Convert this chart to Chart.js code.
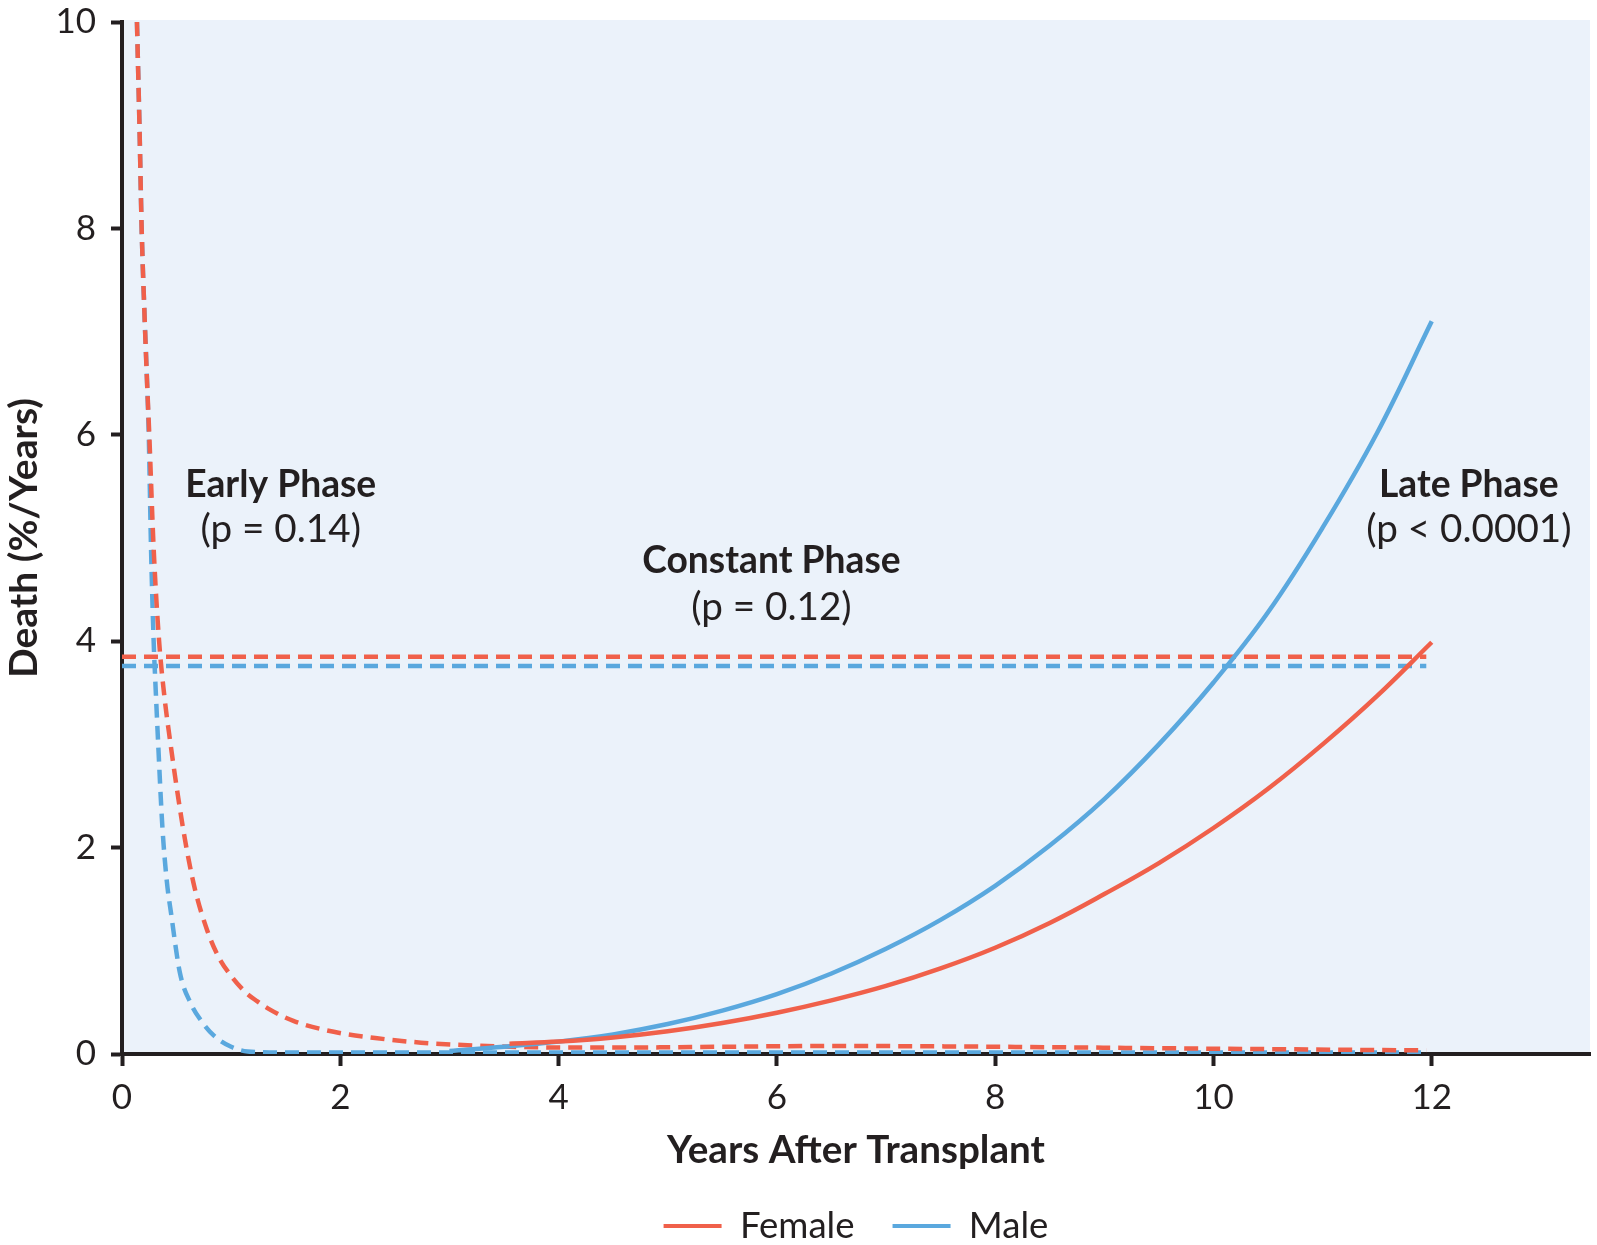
<!DOCTYPE html>
<html>
<head>
<meta charset="utf-8">
<script src="https://cdn.jsdelivr.net/npm/chart.js@4.4.1/dist/chart.umd.min.js"></script>
<style>
  html, body { margin: 0; padding: 0; background: #ffffff; }
  #wrap { width: 1597px; height: 1245px; position: relative; }
  canvas { display: block; }
</style>
</head>
<body>
<div id="wrap"><canvas id="chart" width="1597" height="1245"></canvas></div>
<script>
// ---------------- data ----------------
const xTicks = [0, 2, 4, 6, 8, 10, 12];
const yTicks = [0, 2, 4, 6, 8, 10];
const seriesNames = ['Female', 'Male'];

// early phase hazard (dashed)
const femaleEarlyYears = [0.137, 0.16, 0.18, 0.205, 0.23, 0.25, 0.29, 0.34, 0.39, 0.44, 0.52, 0.59, 0.67, 0.78, 0.88, 0.99, 1.13, 1.24, 1.34, 1.57, 1.94, 2.32, 2.74, 3.27, 3.8, 4.5, 5.5, 6.5, 7.5, 8.5, 9.5, 10.5, 11.95];
const femaleEarlyRate  = [10, 9, 8, 7.2, 6.5, 6.0, 4.9, 4.0, 3.45, 3.04, 2.45, 2.0, 1.59, 1.2, 0.95, 0.77, 0.60, 0.51, 0.44, 0.32, 0.215, 0.155, 0.11, 0.08, 0.065, 0.062, 0.07, 0.078, 0.074, 0.066, 0.056, 0.047, 0.035];
const maleEarlyYears   = [0.137, 0.16, 0.18, 0.205, 0.23, 0.245, 0.266, 0.29, 0.31, 0.33, 0.37, 0.41, 0.45, 0.53, 0.63, 0.72, 0.84, 1.0, 1.15, 1.5, 3, 6, 9, 11.95];
const maleEarlyRate    = [10, 9, 8, 7.2, 6.5, 6.0, 4.9, 4.0, 3.5, 3.04, 2.2, 1.68, 1.36, 0.79, 0.49, 0.33, 0.18, 0.07, 0.025, 0.015, 0.015, 0.015, 0.015, 0.015];

// constant phase hazard (dashed)
const constantYears      = [0, 11.95];
const femaleConstantRate = [3.85, 3.85];
const maleConstantRate   = [3.76, 3.76];

// late phase hazard (solid)
const femaleLateYears = [3.55, 4, 4.5, 5, 5.5, 6, 6.5, 7, 7.5, 8, 8.5, 9, 9.5, 10, 10.5, 11, 11.5, 12];
const femaleLateRate  = [0.10, 0.12, 0.16, 0.22, 0.30, 0.40, 0.52, 0.66, 0.83, 1.03, 1.27, 1.55, 1.85, 2.19, 2.57, 3.0, 3.47, 3.99];
const maleLateYears   = [3.0, 3.5, 4, 4.5, 5, 5.5, 6, 6.5, 7, 7.5, 8, 8.5, 9, 9.5, 10, 10.5, 11, 11.5, 12];
const maleLateRate    = [0.03, 0.07, 0.12, 0.19, 0.29, 0.42, 0.58, 0.78, 1.02, 1.30, 1.63, 2.02, 2.47, 3.0, 3.6, 4.28, 5.1, 6.02, 7.1];

const phaseNames   = ['Early Phase', 'Constant Phase', 'Late Phase'];
const phasePValues = ['(p = 0.14)', '(p = 0.12)', '(p < 0.0001)'];

// ---------------- styling ----------------
const FAMILY = 'Lato';
const INK = '#231f20';
const RED = '#f0604a';
const BLUE = '#5aa8de';
const PANEL = '#ebf2fa';

const mctx = document.createElement('canvas').getContext('2d');
function fitSize(text, weight, width) {
  mctx.font = weight + ' 100px ' + FAMILY;
  return 100 * width / mctx.measureText(text).width;
}
const tickSize   = 35;
const yTitleSize = fitSize('Death (%/Years)', 'bold', 280);
const xTitleSize = fitSize('Years After Transplant', 'bold', 378);
const legendSize = (fitSize('Female', 'normal', 117) + fitSize('Male', 'normal', 78)) / 2;
const annBold = (fitSize('Early Phase', 'bold', 194) + fitSize('Constant Phase', 'bold', 250) + fitSize('Late Phase', 'bold', 183)) / 3;
const annReg  = (fitSize('(p = 0.14)', 'normal', 158) + fitSize('(p = 0.12)', 'normal', 158) + fitSize('(p < 0.0001)', 'normal', 212)) / 3;

// layout targets (pixels)
const AREA_TOP = 22;
const AREA_BOTTOM = 1054;
const LEGEND_Y = 1226;
const LEGEND_PAD = 38;
const xAxisH = LEGEND_Y - AREA_BOTTOM - LEGEND_PAD - legendSize / 2;
const legendH = legendSize + LEGEND_PAD + 10;
const padBottom = 1245 - AREA_BOTTOM - xAxisH - legendH;
const X_TITLE_Y = 1151;
const xTitlePadBottom = AREA_BOTTOM + xAxisH - X_TITLE_Y - xTitleSize / 2;

function pts(xs, ys) { return xs.map((x, i) => ({ x: x, y: ys[i] })); }
function series(label, xs, ys, color, dashed, inLegend) {
  const ds = {
    label: label,
    data: pts(xs, ys),
    borderColor: color,
    backgroundColor: color,
    borderWidth: 4.5,
    borderDash: dashed ? [14, 8] : [],
    pointRadius: 0,
    pointHoverRadius: 0,
    fill: false,
    inLegend: inLegend
  };
  if (dashed) { ds.cubicInterpolationMode = 'monotone'; } else { ds.tension = 0.4; }
  return ds;
}

// first dataset is drawn on top
const datasets = [
  series(seriesNames[0], femaleLateYears, femaleLateRate, RED, false, true),
  series(seriesNames[1], maleLateYears, maleLateRate, BLUE, false, true),
  series(seriesNames[0] + ' constant', constantYears, femaleConstantRate, RED, true, false),
  series(seriesNames[1] + ' constant', constantYears, maleConstantRate, BLUE, true, false),
  series(seriesNames[0] + ' early', femaleEarlyYears, femaleEarlyRate, RED, true, false),
  series(seriesNames[1] + ' early', maleEarlyYears, maleEarlyRate, BLUE, true, false)
];
const legendOrder = seriesNames;

const panelPlugin = {
  id: 'panel',
  beforeDraw(chart) {
    const a = chart.chartArea;
    const c = chart.ctx;
    c.save();
    c.fillStyle = PANEL;
    c.fillRect(a.left, a.top - 2, a.right - a.left, a.bottom - a.top + 2);
    c.restore();
  }
};

const phaseLabelPlugin = {
  id: 'phaseLabels',
  afterDatasetsDraw(chart) {
    const xs = chart.scales.x, ys = chart.scales.y, c = chart.ctx;
    const spots = [[1.454, 5.40, 4.96], [5.95, 4.66, 4.21], [12.34, 5.40, 4.96]];
    c.save();
    c.fillStyle = INK;
    c.textAlign = 'center';
    c.textBaseline = 'alphabetic';
    phaseNames.forEach((name, i) => {
      const px = xs.getPixelForValue(spots[i][0]);
      c.font = 'bold ' + annBold + 'px ' + FAMILY;
      c.fillText(name, px, ys.getPixelForValue(spots[i][1]));
      c.font = 'normal ' + annReg + 'px ' + FAMILY;
      c.fillText(phasePValues[i], px, ys.getPixelForValue(spots[i][2]));
    });
    c.restore();
  }
};

new Chart(document.getElementById('chart'), {
  type: 'line',
  data: { datasets: datasets },
  plugins: [panelPlugin, phaseLabelPlugin],
  options: {
    responsive: false,
    devicePixelRatio: 1,
    animation: false,
    events: [],
    layout: { autoPadding: false, padding: { left: 0, top: AREA_TOP, right: 7, bottom: padBottom } },
    plugins: {
      tooltip: { enabled: false },
      legend: {
        display: true,
        position: 'bottom',
        align: 'center',
        fullSize: false,
        labels: {
          boxWidth: 58,
          boxHeight: 4,
          padding: LEGEND_PAD,
          color: INK,
          font: { family: FAMILY, size: legendSize, weight: 'normal' },
          generateLabels(chart) {
            return legendOrder.map(name => {
              const i = chart.data.datasets.findIndex(d => d.inLegend && d.label === name);
              const d = chart.data.datasets[i];
              return { text: d.label, fillStyle: d.borderColor, strokeStyle: d.borderColor, lineWidth: 0, hidden: false, datasetIndex: i, fontColor: INK };
            });
          }
        }
      }
    },
    scales: {
      x: {
        type: 'linear',
        min: 0,
        max: 13.45,
        afterBuildTicks(s) { s.ticks = xTicks.map(v => ({ value: v })); },
        afterFit(s) { s.height = xAxisH; s.paddingLeft = 0; s.paddingRight = 0; s.paddingTop = 0; s.paddingBottom = 0; },
        grid: { display: true, drawOnChartArea: false, drawTicks: true, tickLength: 12, tickWidth: 4, tickColor: INK, color: INK },
        border: { display: true, color: INK, width: 4 },
        ticks: { color: INK, padding: 14, maxRotation: 0, autoSkip: false, font: { family: FAMILY, size: tickSize, lineHeight: 1 } },
        title: {
          display: true,
          text: 'Years After Transplant',
          color: INK,
          font: { family: FAMILY, size: xTitleSize, weight: 'bold', lineHeight: 1 },
          padding: { top: 0, bottom: xTitlePadBottom }
        }
      },
      y: {
        type: 'linear',
        min: 0,
        max: 10,
        afterBuildTicks(s) { s.ticks = yTicks.map(v => ({ value: v })); },
        afterFit(s) { s.width = 122; s.paddingTop = 0; s.paddingBottom = 0; s.paddingLeft = 0; s.paddingRight = 0; },
        grid: { display: true, drawOnChartArea: false, drawTicks: true, tickLength: 11, tickWidth: 4, tickColor: INK, color: INK },
        border: { display: true, color: INK, width: 4 },
        ticks: { color: INK, padding: 15, font: { family: FAMILY, size: tickSize, lineHeight: 1 } },
        title: {
          display: true,
          text: 'Death (%/Years)',
          color: INK,
          font: { family: FAMILY, size: yTitleSize, weight: 'bold', lineHeight: 1 },
          padding: { top: Math.max(0, 24 - yTitleSize / 2), bottom: 0 }
        }
      }
    }
  }
});
</script>
</body>
</html>
